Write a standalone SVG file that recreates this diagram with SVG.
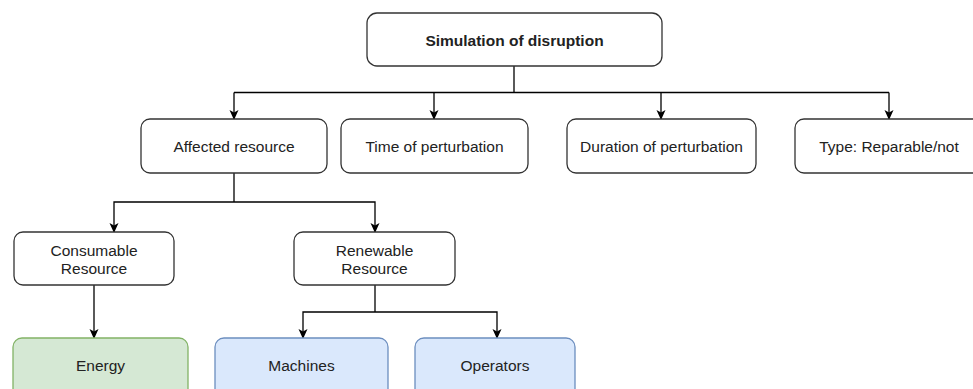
<svg xmlns="http://www.w3.org/2000/svg" width="973" height="389" viewBox="0 0 973 389">
<defs>
<marker id="arr" viewBox="0 0 10 10" refX="9" refY="5" markerWidth="10" markerHeight="10" markerUnits="userSpaceOnUse" orient="auto">
<path d="M0,0.5 L10,5 L0,9.5 L2.5,5 Z" fill="#000"/>
</marker>
<style>
.box{fill:#fff;stroke:#333;stroke-width:1.3}
.green{fill:#d5e8d4;stroke:#82b366;stroke-width:1.3}
.blue{fill:#dae8fc;stroke:#6c8ebf;stroke-width:1.3}
.t{font-family:"Liberation Sans",Arial,sans-serif;font-size:15.5px;fill:#222;text-anchor:middle;dominant-baseline:central}
.b{font-weight:bold}
.c{fill:none;stroke:#000;stroke-width:1.3;marker-end:url(#arr)}
.l{fill:none;stroke:#000;stroke-width:1.3}
</style>
</defs>
<rect width="973" height="389" fill="#fff"/>
<g id="connectors">
<path class="l" d="M514,66 V92.5"/>
<path class="l" d="M234,92.5 H889"/>
<path class="c" d="M234,92.5 V119"/>
<path class="c" d="M434,92.5 V119"/>
<path class="c" d="M661,92.5 V119"/>
<path class="c" d="M889,92.5 V119"/>
<path class="l" d="M234,173 V202"/>
<path class="c" d="M234,202 H114 V232"/>
<path class="c" d="M234,202 H375 V232"/>
<path class="c" d="M94,285 V338"/>
<path class="l" d="M375,285 V312"/>
<path class="c" d="M375,312 H303 V338"/>
<path class="c" d="M375,312 H497 V338"/>
</g>
<g id="simulation">
<rect class="box" x="367" y="13" width="295" height="53" rx="10"/>
<text class="t b" x="514.5" y="40">Simulation of disruption</text>
</g>
<g id="affected">
<rect class="box" x="141" y="119" width="186" height="54" rx="9"/>
<text class="t" x="234" y="146">Affected resource</text>
</g>
<g id="time">
<rect class="box" x="341" y="119" width="187" height="54" rx="9"/>
<text class="t" x="434.5" y="146">Time of perturbation</text>
</g>
<g id="duration">
<rect class="box" x="567" y="119" width="189" height="54" rx="9"/>
<text class="t" x="661.5" y="146">Duration of perturbation</text>
</g>
<g id="type">
<rect class="box" x="795" y="119" width="188" height="54" rx="9"/>
<text class="t" x="889" y="146">Type: Reparable/not</text>
</g>
<g id="consumable">
<rect class="box" x="14" y="232" width="160" height="53" rx="9"/>
<text class="t" x="94" y="250">Consumable</text>
<text class="t" x="94" y="268">Resource</text>
</g>
<g id="renewable">
<rect class="box" x="294" y="232" width="161" height="53" rx="9"/>
<text class="t" x="374.5" y="250">Renewable</text>
<text class="t" x="374.5" y="268">Resource</text>
</g>
<g id="energy">
<rect class="green" x="13" y="338" width="175" height="60" rx="9"/>
<text class="t" x="100.5" y="365">Energy</text>
</g>
<g id="machines">
<rect class="blue" x="215" y="338" width="173" height="60" rx="9"/>
<text class="t" x="301.5" y="365">Machines</text>
</g>
<g id="operators">
<rect class="blue" x="415" y="338" width="160" height="60" rx="9"/>
<text class="t" x="495" y="365">Operators</text>
</g>
</svg>
